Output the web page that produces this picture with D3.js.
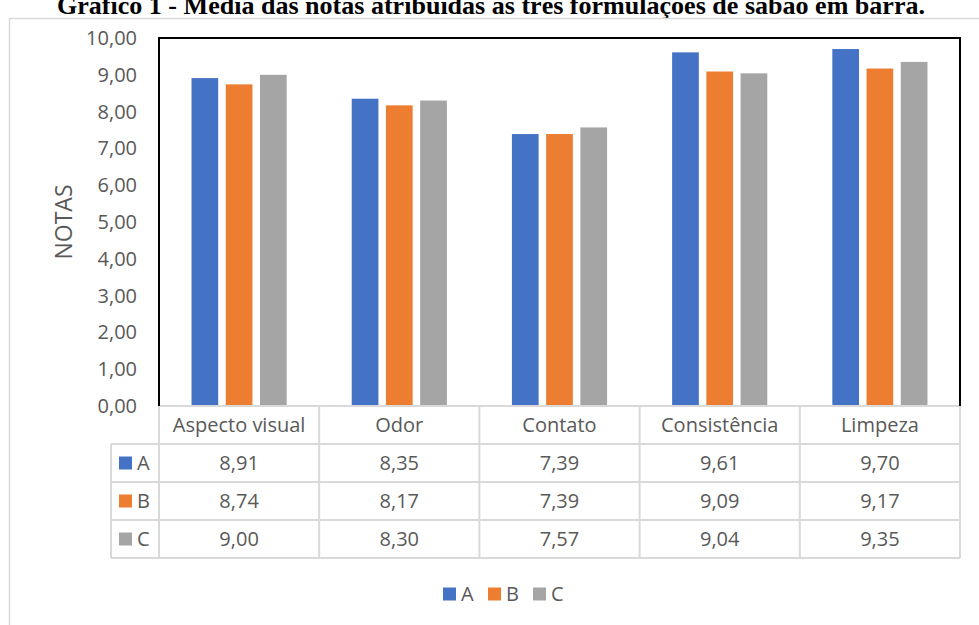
<!DOCTYPE html>
<html>
<head>
<meta charset="utf-8">
<script src="https://cdn.jsdelivr.net/npm/d3@7"></script>
<style>
  html, body { margin: 0; padding: 0; background: #fff; }
  svg { display: block; }
</style>
</head>
<body>
<svg id="chart" width="979" height="625"></svg>
<script>
// Average scores for the three bar-soap formulations
const categories = ["Aspecto visual", "Odor", "Contato", "Consistência", "Limpeza"];
const seriesNames = ["A", "B", "C"];
const valuesA = [8.91, 8.35, 7.39, 9.61, 9.70];
const valuesB = [8.74, 8.17, 7.39, 9.09, 9.17];
const valuesC = [9.00, 8.30, 7.57, 9.04, 9.35];
const colors = ["#4472C4", "#ED7D31", "#A5A5A5"];
const yTicks = [0, 1, 2, 3, 4, 5, 6, 7, 8, 9, 10];
const titleText = "Gráfico 1 - Média das notas atribuídas às três formulações de sabão em barra.";
const yLabel = "NOTAS";

const series = [valuesA, valuesB, valuesC];
const fmt = v => d3.format(".2f")(v).replace(".", ",");

const svg = d3.select("#chart");
const font = "'Open Sans', Lato, sans-serif";
const fs = 20;
const textColor = "#595959";
const gridColor = "#D9D9D9";

// plot geometry
const plot = { left: 159, right: 960, top: 38, bottom: 406 };
const rowH = [406, 444, 482, 520, 558];
const legendColLeft = 111;

const x = d3.scaleBand().domain(categories).range([plot.left, plot.right]).paddingInner(0).paddingOuter(0);
const y = d3.scaleLinear().domain([0, 10]).range([plot.bottom, plot.top]);
const xs = d3.scaleBand().domain(seriesNames).range([0, x.bandwidth()]).paddingInner(0.22).paddingOuter(0.95);

// title (top of page)
svg.append("text")
  .attr("x", 491).attr("y", 14)
  .attr("text-anchor", "middle")
  .attr("font-family", "'Liberation Serif', 'Times New Roman', serif")
  .attr("font-weight", "bold")
  .attr("font-size", 26)
  .attr("fill", "#000")
  .attr("textLength", 868)
  .attr("lengthAdjust", "spacingAndGlyphs")
  .text(titleText);

// chart area border
svg.append("path")
  .attr("d", "M9.5,625 V18.5 H979")
  .attr("fill", "none")
  .attr("stroke", gridColor)
  .attr("stroke-width", 1.5);

// bars
seriesNames.forEach((s, si) => {
  svg.append("g").selectAll("rect")
    .data(categories.map((c, ci) => ({ c, v: series[si][ci] })))
    .join("rect")
    .attr("x", d => x(d.c) + xs(s))
    .attr("y", d => y(d.v))
    .attr("width", xs.bandwidth())
    .attr("height", d => y(0) - y(d.v))
    .attr("fill", colors[si]);
});

// y axis labels
const yAxis = d3.axisLeft(y).tickValues(yTicks).tickFormat(fmt).tickSize(0).tickPadding(0);
const gy = svg.append("g").attr("transform", `translate(${plot.left - 22},0)`).call(yAxis);
gy.select(".domain").remove();
gy.selectAll("text")
  .attr("font-family", font).attr("font-size", fs).attr("fill", textColor);

// y axis title
svg.append("text")
  .attr("transform", `translate(72,${(plot.top + plot.bottom) / 2}) rotate(-90)`)
  .attr("text-anchor", "middle")
  .attr("font-family", font).attr("font-size", 23).attr("fill", textColor)
  .text(yLabel);

// data table grid
const g = svg.append("g").attr("stroke", gridColor).attr("stroke-width", 2).attr("fill", "none");
g.append("line").attr("x1", plot.left).attr("x2", plot.right).attr("y1", rowH[0]).attr("y2", rowH[0]);
rowH.slice(1).forEach(r => {
  g.append("line").attr("x1", legendColLeft).attr("x2", plot.right).attr("y1", r).attr("y2", r);
});
categories.forEach(c => {
  g.append("line").attr("x1", x(c)).attr("x2", x(c)).attr("y1", rowH[0]).attr("y2", rowH[4]);
});
g.append("line").attr("x1", plot.right).attr("x2", plot.right).attr("y1", rowH[0]).attr("y2", rowH[4]);
g.append("line").attr("x1", legendColLeft).attr("x2", legendColLeft).attr("y1", rowH[1]).attr("y2", rowH[4]);

// plot frame (black)
svg.append("path")
  .attr("d", `M${plot.left},${plot.bottom} V${plot.top} H${plot.right} V${plot.bottom}`)
  .attr("fill", "none").attr("stroke", "#000").attr("stroke-width", 2);

// category header labels
svg.append("g").selectAll("text")
  .data(categories).join("text")
  .attr("x", d => x(d) + x.bandwidth() / 2)
  .attr("y", (rowH[0] + rowH[1]) / 2)
  .attr("dy", "0.35em")
  .attr("text-anchor", "middle")
  .attr("font-family", font).attr("font-size", fs).attr("fill", textColor)
  .text(d => d);

// value rows
seriesNames.forEach((s, si) => {
  const cy = (rowH[si + 1] + rowH[si + 2]) / 2;
  svg.append("rect").attr("x", 119).attr("y", cy - 6.5).attr("width", 13).attr("height", 13).attr("fill", colors[si]);
  svg.append("text").attr("x", 137).attr("y", cy).attr("dy", "0.35em")
    .attr("font-family", font).attr("font-size", fs).attr("fill", textColor).text(s);
  svg.append("g").selectAll("text")
    .data(categories.map((c, ci) => ({ c, v: series[si][ci] })))
    .join("text")
    .attr("x", d => x(d.c) + x.bandwidth() / 2)
    .attr("y", cy).attr("dy", "0.35em")
    .attr("text-anchor", "middle")
    .attr("font-family", font).attr("font-size", fs).attr("fill", textColor)
    .text(d => fmt(d.v));
});

// legend
const legend = svg.append("g").attr("transform", "translate(443,594)");
seriesNames.forEach((s, si) => {
  const lg = legend.append("g").attr("transform", `translate(${si * 45},0)`);
  lg.append("rect").attr("x", 0).attr("y", -6.5).attr("width", 13).attr("height", 13).attr("fill", colors[si]);
  lg.append("text").attr("x", 18).attr("y", 0).attr("dy", "0.35em")
    .attr("font-family", font).attr("font-size", fs).attr("fill", textColor).text(s);
});
</script>
</body>
</html>
